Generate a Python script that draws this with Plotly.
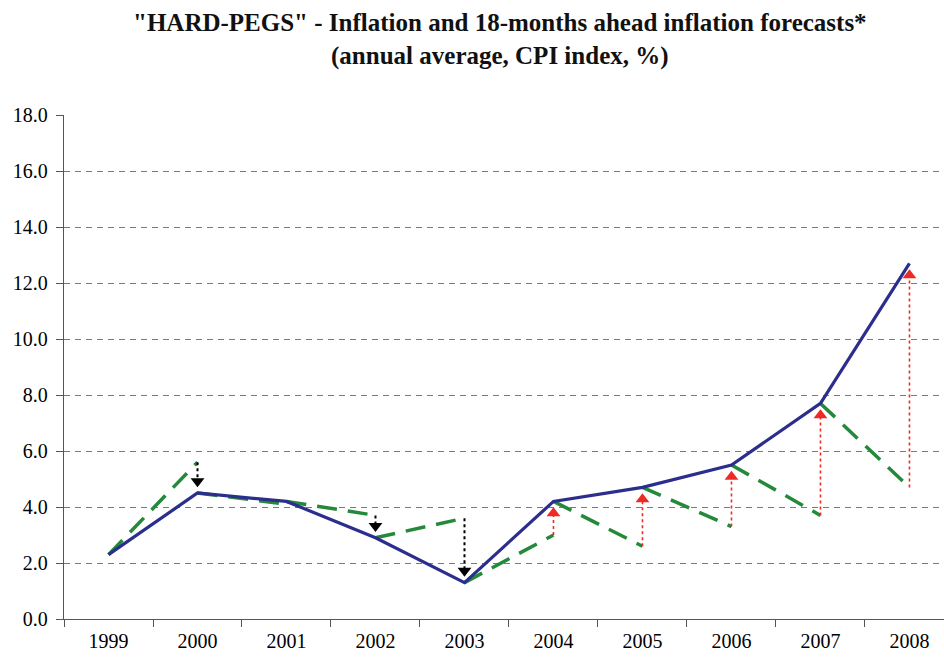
import plotly.graph_objects as go

# Annual average CPI inflation (%) and the forecast for each year made 18 months earlier
years = ["1999", "2000", "2001", "2002", "2003", "2004", "2005", "2006", "2007", "2008"]
actual = [2.3, 4.5, 4.2, 2.9, 1.3, 4.2, 4.7, 5.5, 7.7, 12.7]
forecast = [None, 5.6, 4.1, 3.7, 3.6, 3.0, 2.6, 3.3, 3.7, 4.7]

# years whose forecast error is marked with an arrow
arrow_years = ["2000", "2002", "2003", "2004", "2005", "2006", "2007", "2008"]

TITLE_LINES = [
    '"HARD-PEGS" - Inflation and 18-months ahead inflation forecasts*',
    "(annual average, CPI index, %)",
]

FONT = "Liberation Serif"
BLUE = "#2B2E8C"
GREEN = "#24893A"
RED = "#EE2A24"

fig = go.Figure()

# forecast paths: from the previous year's outturn to the forecast value
fx, fy = [], []
for i in range(1, len(years)):
    if forecast[i] is None:
        continue
    fx += [years[i - 1], years[i], None]
    fy += [actual[i - 1], forecast[i], None]
fig.add_trace(go.Scatter(
    x=fx, y=fy, mode="lines", connectgaps=False,
    line=dict(color=GREEN, width=3.5, dash="20px,11px"),
    hoverinfo="skip", showlegend=False,
))

# actual inflation
fig.add_trace(go.Scatter(
    x=years, y=actual, mode="lines",
    line=dict(color=BLUE, width=3.2),
    showlegend=False,
))

# forecast-error arrows: dotted shaft plus triangular head near the outturn
head_gap = 0.42
for yr in arrow_years:
    i = years.index(yr)
    f, a = forecast[i], actual[i]
    up = a > f
    color = RED if up else "black"
    head_y = a - head_gap if up else a + head_gap
    fig.add_trace(go.Scatter(
        x=[yr, yr], y=[f, head_y], mode="lines",
        line=dict(color=color, width=1.6 if up else 2, dash="dot"),
        hoverinfo="skip", showlegend=False,
    ))
    fig.add_trace(go.Scatter(
        x=[yr], y=[head_y], mode="markers",
        marker=dict(symbol="triangle-up" if up else "triangle-down",
                    size=12, color=color, line=dict(width=0)),
        hoverinfo="skip", showlegend=False,
    ))

fig.update_layout(
    width=944, height=659,
    margin=dict(l=64, r=0, t=115, b=40),
    paper_bgcolor="white", plot_bgcolor="white",
    font=dict(family=FONT, color="black"),
    annotations=[dict(
        text="<br>".join(f"<b>{t}</b>" for t in TITLE_LINES),
        font=dict(family=FONT, size=25, color="#111"),
        xref="paper", yref="paper", x=0.4955, y=1.214,
        xanchor="center", yanchor="top", showarrow=False,
    )],
)

fig.update_xaxes(
    type="category", range=[-0.5, 9.388],
    tickson="boundaries", ticks="outside", ticklen=7, tickcolor="#555", tickwidth=1.3,
    showline=True, linecolor="#555", linewidth=1.3,
    showgrid=False, zeroline=False, ticklabelstandoff=4,
    tickfont=dict(family=FONT, size=20, color="black"),
)
fig.update_yaxes(
    range=[0, 18], dtick=2, tickformat=".1f",
    ticks="outside", ticklen=7, tickcolor="#555", tickwidth=1.3,
    showline=True, linecolor="#555", linewidth=1.3,
    showgrid=True, gridcolor="#7a7a7a", gridwidth=1, griddash="6px,5px",
    zeroline=False, ticklabelstandoff=4,
    tickfont=dict(family=FONT, size=20, color="black"),
)

fig.write_html("out.html")
